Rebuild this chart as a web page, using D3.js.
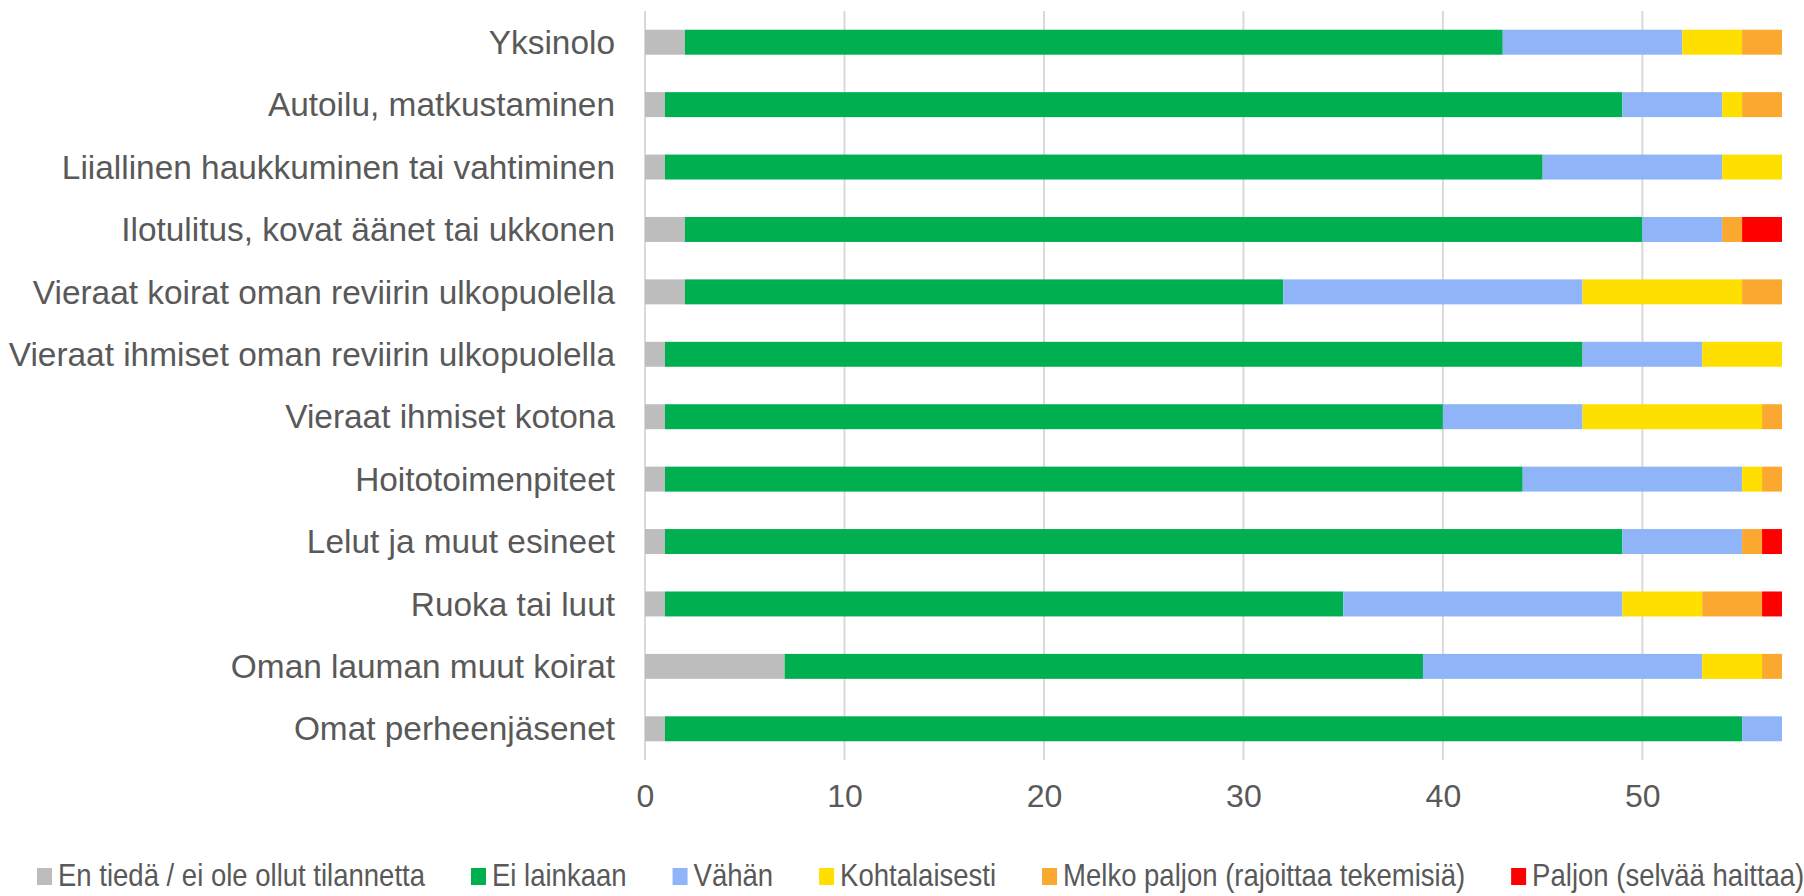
<!DOCTYPE html>
<html>
<head>
<meta charset="utf-8">
<script src="https://cdn.jsdelivr.net/npm/d3@7"></script>
<style>
  html, body { margin: 0; padding: 0; background: #ffffff; }
  svg { display: block; }
</style>
</head>
<body>
<svg id="chart" width="1804" height="896"></svg>
<script>
// ---- Data ----
const categories = [
  "Yksinolo",
  "Autoilu, matkustaminen",
  "Liiallinen haukkuminen tai vahtiminen",
  "Ilotulitus, kovat äänet tai ukkonen",
  "Vieraat koirat oman reviirin ulkopuolella",
  "Vieraat ihmiset oman reviirin ulkopuolella",
  "Vieraat ihmiset kotona",
  "Hoitotoimenpiteet",
  "Lelut ja muut esineet",
  "Ruoka tai luut",
  "Oman lauman muut koirat",
  "Omat perheenjäsenet"
];
const seriesNames = [
  "En tiedä / ei ole ollut tilannetta",
  "Ei lainkaan",
  "Vähän",
  "Kohtalaisesti",
  "Melko paljon (rajoittaa tekemisiä)",
  "Paljon (selvää haittaa)"
];
const enTieda       = [2, 1, 1, 2, 2, 1, 1, 1, 1, 1, 7, 1];
const eiLainkaan    = [41, 48, 44, 48, 30, 46, 39, 43, 48, 34, 32, 54];
const vahan         = [9, 5, 9, 4, 15, 6, 7, 11, 6, 14, 14, 2];
const kohtalaisesti = [3, 1, 3, 0, 8, 4, 9, 1, 0, 4, 3, 0];
const melkoPaljon   = [2, 2, 0, 1, 2, 0, 1, 1, 1, 3, 1, 0];
const paljon        = [0, 0, 0, 2, 0, 0, 0, 0, 1, 1, 0, 0];
const tickValues = [0, 10, 20, 30, 40, 50];
const xMax = 57;

const seriesColors = ["#bdbdbd", "#00af50", "#8fb5f8", "#ffdf00", "#fba830", "#ff0000"];

// ---- Build table ----
const seriesValues = [enTieda, eiLainkaan, vahan, kohtalaisesti, melkoPaljon, paljon];
const table = categories.map((c, i) => {
  const row = { category: c };
  seriesNames.forEach((s, k) => { row[s] = seriesValues[k][i]; });
  return row;
});
const stacked = d3.stack().keys(seriesNames)(table);

// ---- Layout ----
const svg = d3.select("#chart");
const plot = { left: 645, right: 1782, top: 11, bottom: 760 };
const textColor = "#595959";
const fontFamily = "'Liberation Sans', Arial, sans-serif";

const x = d3.scaleLinear().domain([0, xMax]).range([plot.left, plot.right]);
const y = d3.scaleBand().domain(categories).range([plot.top, plot.bottom]).paddingInner(0.6).paddingOuter(0.3);

// gridlines
svg.append("g")
  .selectAll("line")
  .data(tickValues)
  .join("line")
  .attr("x1", d => x(d)).attr("x2", d => x(d))
  .attr("y1", plot.top).attr("y2", plot.bottom)
  .attr("stroke", "#d9d9d9")
  .attr("stroke-width", 2);

// bars
svg.append("g")
  .selectAll("g")
  .data(stacked)
  .join("g")
  .attr("fill", (d, i) => seriesColors[i])
  .selectAll("rect")
  .data(d => d.filter(p => p[1] - p[0] > 0))
  .join("rect")
  .attr("x", d => x(d[0]))
  .attr("width", d => x(d[1]) - x(d[0]))
  .attr("y", d => y(d.data.category))
  .attr("height", y.bandwidth());

// x-axis tick labels
const xAxis = d3.axisBottom(x).tickValues(tickValues).tickSize(0).tickPadding(0).tickFormat(d3.format("d"));
const xg = svg.append("g").attr("transform", `translate(0, ${plot.bottom})`).call(xAxis);
xg.select(".domain").remove();
xg.selectAll("text")
  .attr("y", 0)
  .attr("dy", null)
  .attr("transform", "translate(0, 47)")
  .attr("fill", textColor)
  .attr("font-family", fontFamily)
  .attr("font-size", 32);

// y-axis category labels
const yAxis = d3.axisLeft(y).tickSize(0).tickPadding(30);
const yg = svg.append("g").attr("transform", `translate(${plot.left}, 0)`).call(yAxis);
yg.select(".domain").remove();
yg.selectAll("text")
  .attr("fill", textColor)
  .attr("font-family", fontFamily)
  .attr("font-size", 33.4)
  .attr("dy", "0.35em");

// legend
const legend = svg.append("g").attr("class", "legend");
const squareSize = 15;
const condense = 0.86;
let cx = 37;
const legendBaseline = 886;
seriesNames.forEach((name, i) => {
  const g = legend.append("g");
  g.append("rect")
    .attr("x", cx).attr("y", legendBaseline - 18)
    .attr("width", squareSize).attr("height", squareSize + 2)
    .attr("fill", seriesColors[i]);
  const tx = cx + squareSize + 6;
  const t = g.append("text")
    .attr("x", 0).attr("y", 0)
    .attr("transform", `translate(${tx}, ${legendBaseline}) scale(${condense}, 1)`)
    .attr("fill", textColor)
    .attr("font-family", fontFamily)
    .attr("font-size", 32)
    .text(name);
  const w = t.node().getComputedTextLength() * condense;
  cx = tx + w + 46;
});
</script>
</body>
</html>
